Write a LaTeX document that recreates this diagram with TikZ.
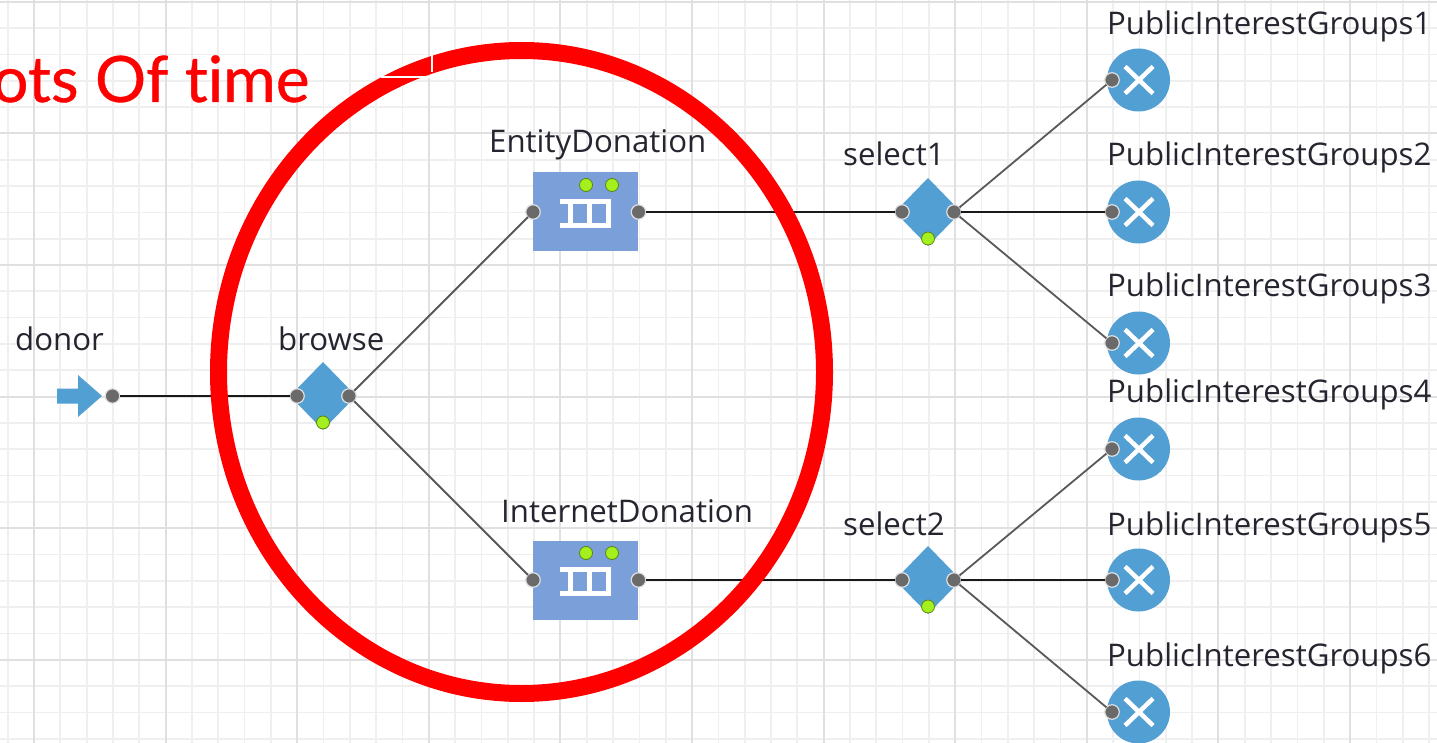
\documentclass[tikz,border=0pt]{standalone}
\usepackage{fontspec}
\setmainfont{Open Sans}
\newfontfamily\titlefont[Ligatures=NoCommon,FakeBold=0.6,Contextuals=NoAlternate]{Lato}
\usetikzlibrary{shapes.geometric}
\definecolor{blueshape}{HTML}{519FD3}
\definecolor{queueblue}{HTML}{7B9FD8}
\definecolor{portgray}{HTML}{6A6A6A}
\definecolor{lime}{HTML}{A4F01E}
\definecolor{gridminor}{HTML}{EFEFEF}
\definecolor{gridmajor}{HTML}{E0E0E0}
\definecolor{labeltext}{HTML}{252530}
\tikzset{
  x=1pt,y=-1pt,
  gridfine/.style={draw=gridminor,line width=1.7pt},
  gridbold/.style={draw=gridmajor,line width=1.9pt},
  portdot/.style={circle,fill=portgray,draw=white!75!gray,line width=1.2pt,minimum size=14.5pt,inner sep=0pt,outer sep=0pt},
  limedot/.style={circle,fill=lime,draw=lime!55!black,line width=.8pt,minimum size=13pt,inner sep=0pt},
  gate/.style={diamond,fill=blueshape,minimum width=66pt,minimum height=68pt,inner sep=0pt,outer sep=0pt},
  queuebox/.style={rectangle,fill=queueblue,minimum width=105pt,minimum height=79pt,inner sep=0pt,outer sep=0pt},
  sinkdisc/.style={circle,fill=blueshape,minimum size=63pt,inner sep=0pt,outer sep=0pt},
  lbl/.style={anchor=base west,inner sep=0pt,text=labeltext,font=\fontsize{31.2}{36}\selectfont},
  straightlink/.style={draw=black!90,line width=2pt},
  slantlink/.style={draw=black!65,line width=1.8pt},
  whitebar/.style={draw=white,line width=5pt},
}
\newcommand{\queuenode}[2]{%
  \node[queuebox] (#1) at (585.5,#2) {};
  \node[limedot] (#1g1) at (586,#2-27) {};
  \node[limedot] (#1g2) at (612,#2-27) {};
  \draw[whitebar] (560,#2-10.5) -- (611,#2-10.5);
  \draw[whitebar] (560,#2+13.5) -- (611,#2+13.5);
  \draw[whitebar] (570.5,#2-10.5) -- (570.5,#2+13.5);
  \draw[whitebar] (589.5,#2-10.5) -- (589.5,#2+13.5);
  \draw[whitebar] (608.5,#2-10.5) -- (608.5,#2+13.5);
  \node[portdot] (#1in) at (533,#2) {};
  \node[portdot] (#1out) at (638.5,#2) {};
}
\newcommand{\gatenode}[3]{%
  \node[gate] (#1) at (#2,#3) {};
  \node[limedot] (#1g) at (#2,#3+26.5) {};
  \node[portdot] (#1in) at (#2-26,#3) {};
  \node[portdot] (#1out) at (#2+26,#3) {};
}
\newcommand{\sinknode}[2]{%
  \node[sinkdisc] (#1) at (1138.5,#2) {};
  \draw[whitebar,line width=4.5pt] (1125,#2-13.5) -- (1153,#2+13.5);
  \draw[whitebar,line width=4.5pt] (1125,#2+13.5) -- (1153,#2-13.5);
  \node[portdot] (#1in) at (1112,#2) {};
}
\begin{document}
\begin{tikzpicture}
\useasboundingbox (0,0) rectangle (1437,743);
\clip (0,0) rectangle (1437,743);
\fill[white] (0,0) rectangle (1437,743);
% grid
\foreach \k in {0,...,54}{
  \pgfmathsetmacro{\gx}{7.7+26.32*\k}
  \draw[gridfine] (\gx,0) -- (\gx,743);
}
\foreach \k in {0,...,28}{
  \pgfmathsetmacro{\gy}{1.8+26.32*\k}
  \draw[gridfine] (0,\gy) -- (1437,\gy);
}
\foreach \k in {0,...,10}{
  \pgfmathsetmacro{\gx}{34+131.6*\k}
  \draw[gridbold] (\gx,0) -- (\gx,743);
}
\foreach \k in {0,...,5}{
  \pgfmathsetmacro{\gy}{1.8+131.6*\k}
  \draw[gridbold] (0,\gy) -- (1437,\gy);
}
% source
\node[inner sep=0pt,outer sep=0pt] (donorarrow) at (79.5,396) {\tikz[x=1pt,y=-1pt]\fill[blueshape] (0,-7.5) -- (21,-7.5) -- (21,-21) -- (45,0) -- (21,21) -- (21,7.5) -- (0,7.5) -- cycle;};
\node[portdot] (donorout) at (112.5,396) {};
% gates and queues
\gatenode{browse}{323}{396}
\gatenode{selecta}{928}{212}
\gatenode{selectb}{928}{580}
\queuenode{entity}{212}
\queuenode{internet}{580}
% sinks
\sinknode{pa}{80}
\sinknode{pb}{212}
\sinknode{pc}{343}
\sinknode{pd}{449}
\sinknode{pe}{580}
\sinknode{pf}{712}
% connectors
\draw[straightlink] (donorout) -- (browsein);
\draw[slantlink] (browseout) -- (entityin);
\draw[slantlink] (browseout) -- (internetin);
\draw[straightlink] (entityout) -- (selectain);
\draw[straightlink] (internetout) -- (selectbin);
\draw[slantlink] (selectaout) -- (pain);
\draw[straightlink] (selectaout) -- (pbin);
\draw[slantlink] (selectaout) -- (pcin);
\draw[slantlink] (selectbout) -- (pdin);
\draw[straightlink] (selectbout) -- (pein);
\draw[slantlink] (selectbout) -- (pfin);
% labels
\node[lbl] (t1) at (15,350) {donor};
\node[lbl] (t2) at (278,350) {browse};
\node[lbl] (t3) at (489,153) {EntityDonation};
\node[lbl] (t4) at (501,522) {InternetDonation};
\node[lbl] (t5) at (843,166) {select1};
\node[lbl] (t6) at (843,535) {select2};
\node[lbl] (t7) at (1107,35) {PublicInterestGroups1};
\node[lbl] (t8) at (1107,166) {PublicInterestGroups2};
\node[lbl] (t9) at (1107,297) {PublicInterestGroups3};
\node[lbl] (t10) at (1107,402) {PublicInterestGroups4};
\node[lbl] (t11) at (1107,535) {PublicInterestGroups5};
\node[lbl] (t12) at (1107,666) {PublicInterestGroups6};
% ring
\node[ellipse,draw=red,line width=17pt,minimum width=606pt,minimum height=643pt,inner sep=0pt,outer sep=0pt] (ring) at (521.5,372) {};
\draw[draw=white,line width=1.2pt] (381,77) -- (430,77);
\draw[draw=white,line width=1.2pt] (432,55) -- (432,72);
% title
\node[anchor=base west,inner sep=0pt,text=red,font=\titlefont\fontsize{64}{70}\selectfont] (title) at (-8,102) {ots Of time};
\end{tikzpicture}
\end{document}
